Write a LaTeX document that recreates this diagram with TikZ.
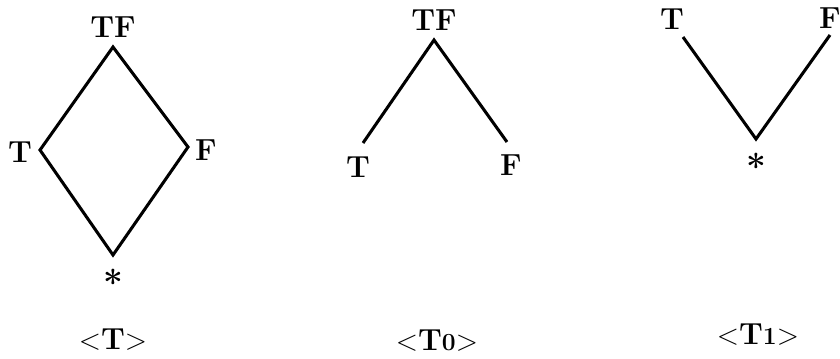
\documentclass[tikz,border=0pt]{standalone}
\usepackage{tikz}

\newcommand{\starmark}{{\fontsize{30}{30}\selectfont\bfseries *}}

\begin{document}
\begin{tikzpicture}[x=0.03cm,y=-0.03cm,line width=2.6pt,line join=miter,
  every node/.style={font=\fontsize{26}{26}\selectfont\bfseries,inner sep=0pt}]
  \useasboundingbox (0,0) rectangle (840,358);
  % lattice <T>
  \coordinate (Atop) at (113,47);
  \coordinate (Aleft) at (40,150);
  \coordinate (Aright) at (188,147);
  \coordinate (Abot) at (113,255);
  \draw (Atop) -- (Aright) -- (Abot) -- (Aleft) -- cycle;
  \node (Atf) at (113,27) {TF};
  \node (At) at (20,152) {T};
  \node (Af) at (206,150) {F};
  \node (Astar) at (113,282) {\starmark};
  \node (Aname) at (113,340) {$<$T$>$};
  % lattice <T0>
  \coordinate (Btop) at (434,40);
  \coordinate (Bleft) at (363,143);
  \coordinate (Bright) at (507,142);
  \draw (Bleft) -- (Btop) -- (Bright);
  \node (Btf) at (434,20) {TF};
  \node (Bt) at (358,167) {T};
  \node (Bf) at (511,165) {F};
  \node (Bname) at (437,341) {$<$T{\fontsize{21}{21}\selectfont 0}$>$};
  % lattice <T1>
  \coordinate (Cleft) at (683,37);
  \coordinate (Cright) at (830,35);
  \coordinate (Cbot) at (756,139);
  \draw (Cleft) -- (Cbot) -- (Cright);
  \node (Ct) at (672,19) {T};
  \node (Cf) at (830,18) {F};
  \node (Cstar) at (756,166) {\starmark};
  \node (Cname) at (758,335) {$<$T{\fontsize{21}{21}\selectfont 1}$>$};
\end{tikzpicture}
\end{document}
